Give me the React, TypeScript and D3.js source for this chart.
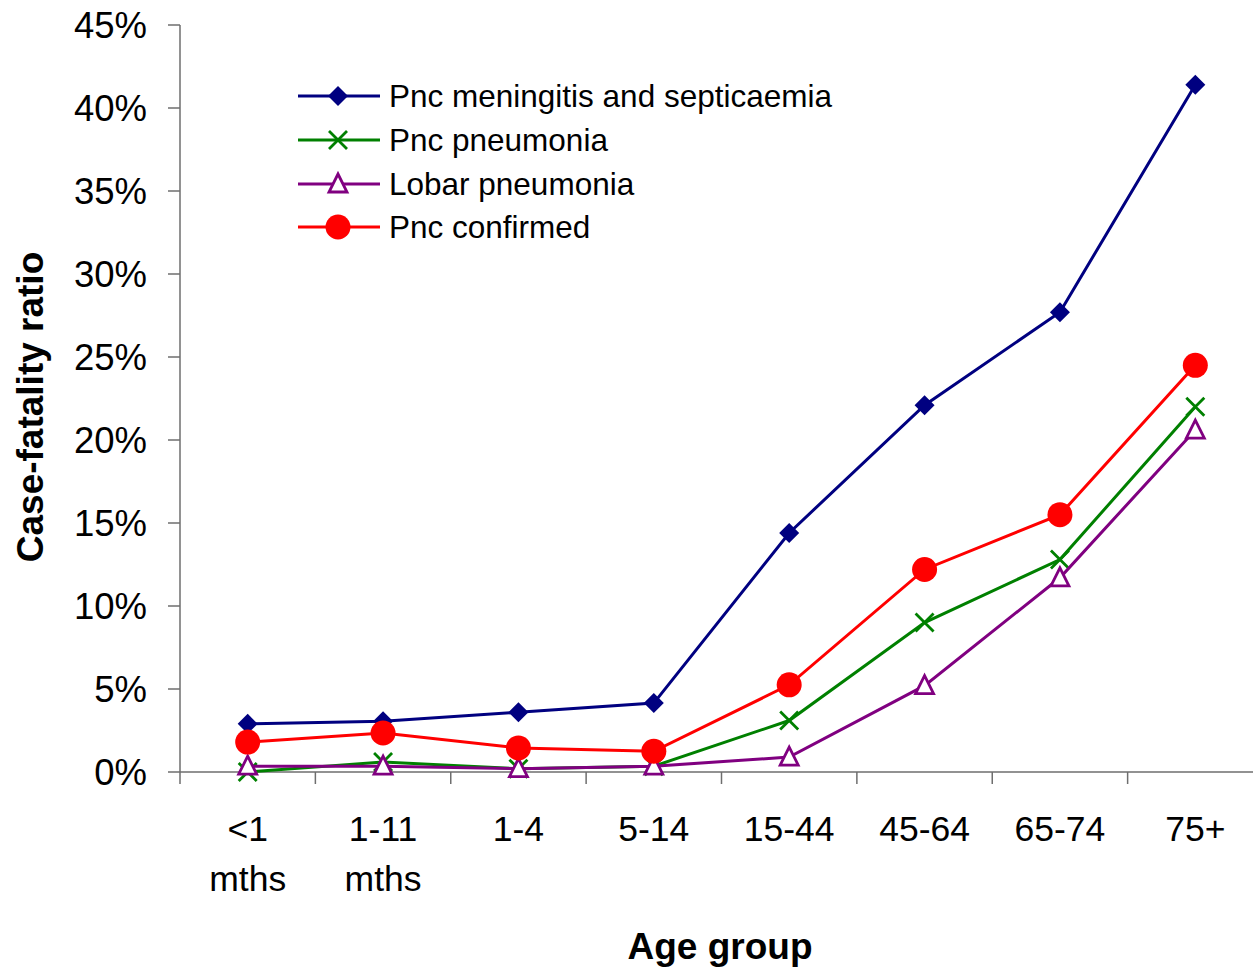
import React from "react";
import * as d3 from "d3";

const categories = ["<1|mths", "1-11|mths", "1-4", "5-14", "15-44", "45-64", "65-74", "75+"];
const meningitis = [2.9, 3.05, 3.6, 4.15, 14.4, 22.1, 27.7, 41.4];
const pneumonia = [0.0, 0.6, 0.2, 0.35, 3.1, 9.0, 12.8, 22.0];
const lobar = [0.35, 0.35, 0.2, 0.35, 0.9, 5.2, 11.7, 20.6];
const confirmed = [1.8, 2.35, 1.45, 1.25, 5.25, 12.2, 15.5, 24.5];
const yTicks = [0, 5, 10, 15, 20, 25, 30, 35, 40, 45];

const seriesNames = ["Pnc meningitis and septicaemia", "Pnc pneumonia", "Lobar pneumonia", "Pnc confirmed"];
const seriesColors = ["#000080", "#008000", "#800080", "#FF0000"];
const seriesMarkers = ["diamond", "x", "triangle", "circle"];
const seriesValues = [meningitis, pneumonia, lobar, confirmed];

const W = 1253, H = 968;
const FONT = "'Liberation Sans', Arial, sans-serif";

function Marker({ type, x, y, color }: { type: string; x: number; y: number; color: string }) {
  if (type === "diamond") {
    const r = 10;
    return <path d={`M${x},${y - r}L${x + r},${y}L${x},${y + r}L${x - r},${y}Z`} fill={color} />;
  }
  if (type === "x") {
    const r = 9;
    return (
      <path d={`M${x - r},${y - r}L${x + r},${y + r}M${x - r},${y + r}L${x + r},${y - r}`} stroke={color} strokeWidth={2.8} fill="none" />
    );
  }
  if (type === "triangle") {
    const r = 9;
    return (
      <path d={`M${x},${y - r - 1}L${x + r},${y + r - 1}L${x - r},${y + r - 1}Z`} stroke={color} strokeWidth={2.8} fill="white" />
    );
  }
  return <circle cx={x} cy={y} r={12.5} fill={color} />;
}

export default function App() {
  const x0 = 180, x1 = 1263, yTop = 25, yBot = 772;
  const x = d3.scaleBand<string>().domain(categories).range([x0, x1]);
  const y = d3.scaleLinear().domain([0, 45]).range([yBot, yTop]);
  const cx = (c: string) => (x(c) as number) + x.bandwidth() / 2;
  const line = d3.line<number>().x((_, i) => cx(categories[i])).y((d) => y(d));
  const axisColor = "#6e6e6e";

  return (
    <svg width={W} height={H} style={{ position: "absolute", left: 0, top: 0, background: "white" }} fontFamily={FONT}>
      <rect x={0} y={0} width={W} height={H} fill="white" />
      {/* y axis */}
      <line x1={x0} x2={x0} y1={yTop} y2={yBot} stroke={axisColor} strokeWidth={1.5} />
      {yTicks.map((t) => (
        <g key={t}>
          <line x1={x0 - 12} x2={x0} y1={y(t)} y2={y(t)} stroke={axisColor} strokeWidth={1.5} />
          <text x={147} y={y(t)} dy="0.36em" textAnchor="end" fontSize={36.5} fill="#000">
            {t}%
          </text>
        </g>
      ))}
      {/* x axis */}
      <line x1={x0} x2={W} y1={yBot} y2={yBot} stroke={axisColor} strokeWidth={1.5} />
      {categories.map((c) => (
        <line key={c} x1={x(c) as number} x2={x(c) as number} y1={yBot} y2={yBot + 12} stroke={axisColor} strokeWidth={1.5} />
      ))}
      {categories.map((c) => {
        const parts = c.split("|");
        return (
          <text key={"l" + c} x={cx(c)} y={841} textAnchor="middle" fontSize={35.5} fill="#000">
            {parts.map((p, i) => (
              <tspan key={i} x={cx(c)} dy={i === 0 ? 0 : 50}>
                {p}
              </tspan>
            ))}
          </text>
        );
      })}
      {/* titles */}
      <text x={720} y={959} textAnchor="middle" fontSize={37} fontWeight="bold" fill="#000">
        Age group
      </text>
      <text transform="translate(43,407) rotate(-90)" textAnchor="middle" fontSize={37} fontWeight="bold" fill="#000">
        Case-fatality ratio
      </text>
      {/* series */}
      {seriesValues.map((vals, si) => (
        <g key={si}>
          <path d={line(vals) || ""} fill="none" stroke={seriesColors[si]} strokeWidth={3} />
          {vals.map((v, i) => (
            <Marker key={i} type={seriesMarkers[si]} x={cx(categories[i])} y={y(v)} color={seriesColors[si]} />
          ))}
        </g>
      ))}
      {/* legend */}
      {seriesNames.map((n, i) => {
        const ly = [96, 140, 184, 227][i];
        return (
          <g key={n}>
            <line x1={298} x2={380} y1={ly} y2={ly} stroke={seriesColors[i]} strokeWidth={3} />
            <Marker type={seriesMarkers[i]} x={338} y={ly} color={seriesColors[i]} />
            <text x={389} y={ly} dy="0.36em" fontSize={31.5} fill="#000">
              {n}
            </text>
          </g>
        );
      })}
    </svg>
  );
}
